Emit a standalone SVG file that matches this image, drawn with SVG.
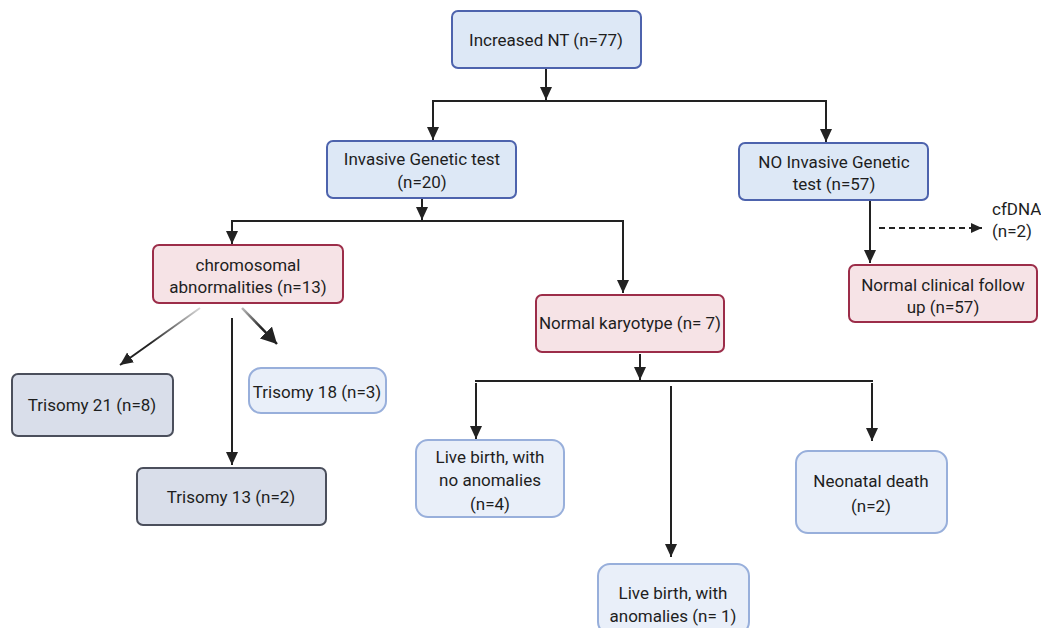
<svg xmlns="http://www.w3.org/2000/svg" width="1041" height="628" viewBox="0 0 1041 628">
<style>
text{font-family:Roboto,"Liberation Sans",sans-serif;font-size:17px;fill:#1e1e1e;text-anchor:middle}
.blue{fill:#dde8f6;stroke:#4d63ad;stroke-width:2}
.pink{fill:#f6e3e6;stroke:#9c2d49;stroke-width:2}
.grey{fill:#d9deea;stroke:#4b4f5c;stroke-width:2}
.light{fill:#e9eff9;stroke:#98afdb;stroke-width:2}
.ln{fill:none;stroke:#222;stroke-width:2}
</style>
<defs>
<marker id="ah" markerUnits="userSpaceOnUse" markerWidth="13" markerHeight="13" refX="13" refY="6.5" orient="auto" viewBox="0 0 13 13">
<path d="M0,0.5 L13,6.5 L0,12.5 z" fill="#222"/>
</marker>
<marker id="ahb" markerUnits="userSpaceOnUse" markerWidth="17" markerHeight="17" refX="16" refY="8.5" orient="auto" viewBox="0 0 17 17">
<path d="M0,0 L16,8.5 L0,17 z" fill="#222"/>
</marker>
<marker id="ahs" markerUnits="userSpaceOnUse" markerWidth="11" markerHeight="10" refX="11" refY="5" orient="auto" viewBox="0 0 11 10">
<path d="M0,0 L11,5 L0,10 z" fill="#222"/>
</marker>
<linearGradient id="g21" gradientUnits="userSpaceOnUse" x1="200" y1="308" x2="150" y2="344">
<stop offset="0" stop-color="#d8d8d8"/><stop offset="1" stop-color="#222"/>
</linearGradient>
<linearGradient id="g18" gradientUnits="userSpaceOnUse" x1="242" y1="308" x2="262" y2="328">
<stop offset="0" stop-color="#bbbbbb"/><stop offset="1" stop-color="#222"/>
</linearGradient>
</defs>
<g id="connectors">
<line class="ln" x1="546" y1="68" x2="546" y2="100" marker-end="url(#ah)"/>
<line class="ln" x1="432" y1="101" x2="827" y2="101"/>
<line class="ln" x1="433" y1="101" x2="433" y2="140" marker-end="url(#ah)"/>
<line class="ln" x1="826" y1="101" x2="826" y2="142" marker-end="url(#ah)"/>
<line class="ln" x1="422" y1="199" x2="422" y2="220" marker-end="url(#ah)"/>
<line class="ln" x1="231" y1="221" x2="624" y2="221"/>
<line class="ln" x1="232" y1="221" x2="232" y2="244" marker-end="url(#ah)"/>
<line class="ln" x1="623" y1="221" x2="623" y2="293" marker-end="url(#ah)"/>
<line class="ln" x1="870" y1="201" x2="870" y2="263" marker-end="url(#ah)"/>
<line class="ln" x1="879" y1="228" x2="982" y2="228" stroke-dasharray="6,4" marker-end="url(#ahs)"/>
<line x1="200" y1="308" x2="120" y2="365" stroke="url(#g21)" stroke-width="2" marker-end="url(#ah)"/>
<line class="ln" x1="232" y1="318" x2="232" y2="465" marker-end="url(#ah)"/>
<line x1="242" y1="308" x2="277" y2="344" stroke="url(#g18)" stroke-width="2.5" marker-end="url(#ahb)"/>
<line class="ln" x1="640" y1="354" x2="640" y2="380" marker-end="url(#ah)"/>
<line class="ln" x1="475" y1="381" x2="873" y2="381"/>
<line class="ln" x1="476" y1="383" x2="476" y2="439" marker-end="url(#ah)"/>
<line class="ln" x1="671" y1="386" x2="671" y2="557" marker-end="url(#ah)"/>
<line class="ln" x1="872" y1="383" x2="872" y2="441" marker-end="url(#ah)"/>
</g>
<g id="increased-nt"><rect class="blue" x="452" y="11" width="189" height="57" rx="6"/><text x="546" y="46">Increased NT (n=77)</text></g>
<g id="invasive"><rect class="blue" x="327" y="141" width="189" height="57" rx="6"/><text x="422" y="165">Invasive Genetic test</text><text x="422" y="188">(n=20)</text></g>
<g id="no-invasive"><rect class="blue" x="739" y="143" width="189" height="57" rx="6"/><text x="834" y="168">NO Invasive Genetic</text><text x="834" y="190">test (n=57)</text></g>
<g id="cfdna"><text x="992" y="215" style="text-anchor:start">cfDNA</text><text x="992" y="237" style="text-anchor:start">(n=2)</text></g>
<g id="normal-follow"><rect class="pink" x="849" y="265" width="188" height="57" rx="6"/><text x="943" y="291">Normal clinical follow</text><text x="943" y="313">up (n=57)</text></g>
<g id="chromosomal"><rect class="pink" x="153" y="245" width="190" height="58" rx="6"/><text x="248" y="271">chromosomal</text><text x="248" y="293">abnormalities (n=13)</text></g>
<g id="normal-karyotype"><rect class="pink" x="536" y="295" width="188" height="57" rx="6"/><text x="630" y="329">Normal karyotype (n= 7)</text></g>
<g id="trisomy21"><rect class="grey" x="12" y="374" width="161" height="62" rx="6"/><text x="92" y="411">Trisomy 21 (n=8)</text></g>
<g id="trisomy18"><rect class="light" x="249" y="368" width="137" height="45" rx="12"/><text x="317" y="398">Trisomy 18 (n=3)</text></g>
<g id="trisomy13"><rect class="grey" x="137" y="468" width="189" height="57" rx="6"/><text x="231" y="503">Trisomy 13 (n=2)</text></g>
<g id="live-no-anomalies"><rect class="light" x="416" y="440" width="148" height="77" rx="12"/><text x="490" y="463">Live birth, with</text><text x="490" y="486">no anomalies</text><text x="490" y="510">(n=4)</text></g>
<g id="live-anomalies"><rect class="light" x="598" y="564" width="151" height="70" rx="12"/><text x="673" y="599">Live birth, with</text><text x="673" y="622">anomalies (n= 1)</text></g>
<g id="neonatal"><rect class="light" x="796" y="451" width="151" height="82" rx="12"/><text x="871" y="487">Neonatal death</text><text x="871" y="512">(n=2)</text></g>
</svg>
